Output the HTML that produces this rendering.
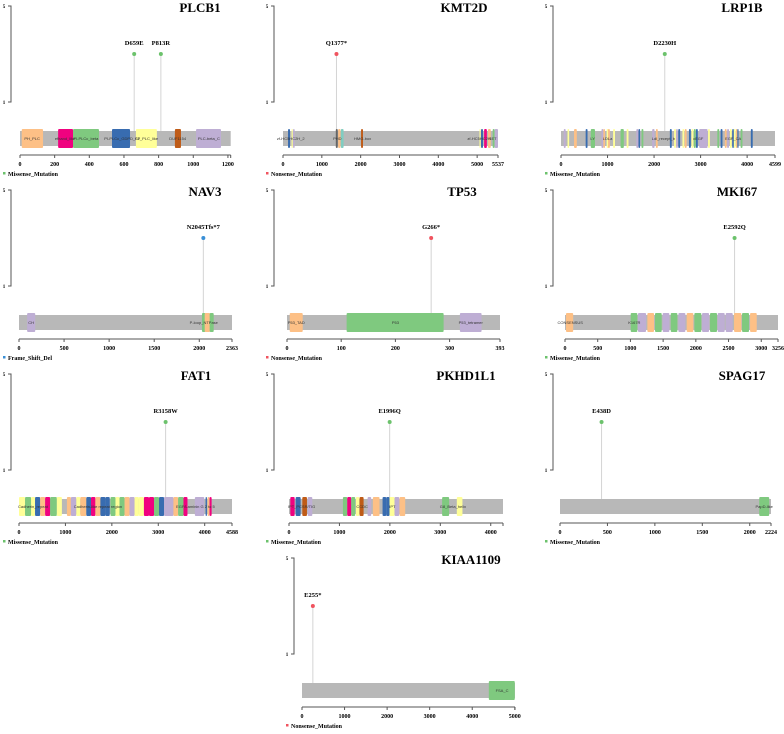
<!DOCTYPE html>
<html><head><meta charset="utf-8">
<style>
html,body{margin:0;padding:0;background:#fff;}
svg{display:block;font-family:"Liberation Serif",serif;}
</style></head>
<body>
<svg id="chart" width="784" height="734" viewBox="0 0 784 734" xmlns="http://www.w3.org/2000/svg"></svg>
<script>
// ---- data ----
const geneNames = ["PLCB1","KMT2D","LRP1B","NAV3","TP53","MKI67","FAT1","PKHD1L1","SPAG17","KIAA1109"];
const geneLengths = [1216,5537,4599,2363,393,3256,4588,4243,2224,5005];
const tickSteps = [200,1000,1000,500,100,500,1000,1000,500,1000];
const mutPositions = [[659,813],[1377],[2230],[2045],[266],[2592],[3158],[1996],[438],[255]];
const mutLabels = [["D659E","P813R"],["Q1377*"],["D2230H"],["N2045Tfs*7"],["G266*"],["E2592Q"],["R3158W"],["E1996Q"],["E438D"],["E255*"]];
const mutTypes = ["Missense_Mutation","Nonsense_Mutation","Missense_Mutation","Frame_Shift_Del","Nonsense_Mutation","Missense_Mutation","Missense_Mutation","Missense_Mutation","Missense_Mutation","Nonsense_Mutation"];
const domPLCB1 = [[10,133,"O"],[220,306,"M"],[306,456,"G"],[531,635,"B"],[669,790,"Y"],[894,929,"R"],[1016,1160,"P"]];
const domKMT2D = [[130,180,"B"],[220,250,"Y"],[260,300,"P"],[1360,1410,"K"],[1420,1480,"O"],[1490,1560,"T"],[2010,2060,"R"],[5060,5090,"Y"],[5100,5150,"B"],[5180,5250,"M"],[5280,5350,"O"],[5400,5450,"G"],[5450,5537,"P"]];
const domLRP1B = [[60,100,"P"],[140,175,"Y"],[280,340,"O"],[530,570,"B"],[640,730,"G"],[870,910,"P"],[910,945,"O"],[980,1020,"Y"],[1010,1050,"O"],[1120,1160,"Y"],[1280,1350,"G"],[1410,1450,"Y"],[1620,1660,"P"],[1665,1700,"B"],[1730,1770,"G"],[1960,2010,"P"],[2040,2080,"O"],[2340,2380,"B"],[2430,2470,"Y"],[2475,2510,"P"],[2520,2560,"B"],[2610,2650,"Y"],[2660,2700,"O"],[2750,2790,"B"],[2805,2845,"Y"],[2855,2895,"G"],[2900,2940,"B"],[2970,3150,"P"],[3160,3200,"Y"],[3360,3400,"G"],[3430,3470,"B"],[3520,3560,"O"],[3570,3610,"P"],[3630,3670,"Y"],[3680,3715,"B"],[3715,3755,"Y"],[3760,3790,"O"],[3790,3815,"B"],[3860,3900,"G"],[4080,4120,"B"]];
const domNAV3 = [[90,180,"P"],[2030,2070,"G"],[2060,2120,"O"],[2115,2160,"G"]];
const domTP53 = [[5,29,"O"],[110,289,"G"],[319,359,"P"]];
const domMKI67 = [[15,125,"O"],[1004,1106,"G"],[1116,1239,"P"],[1259,1361,"O"],[1376,1478,"G"],[1493,1595,"P"],[1616,1718,"G"],[1733,1840,"P"],[1860,1962,"O"],[1977,2084,"G"],[2095,2202,"P"],[2217,2324,"G"],[2334,2441,"P"],[2457,2564,"P"],[2584,2696,"O"],[2706,2813,"G"],[2829,2931,"O"]];
const domFAT1 = [[0,130,"Y"],[130,260,"G"],[260,346,"Y"],[346,455,"B"],[455,563,"O"],[563,671,"M"],[671,815,"G"],[815,924,"Y"],[1032,1118,"O"],[1118,1234,"P"],[1234,1320,"Y"],[1320,1450,"O"],[1450,1551,"B"],[1551,1645,"M"],[1645,1753,"O"],[1753,1861,"B"],[1861,1955,"B"],[1970,2078,"G"],[2078,2165,"Y"],[2165,2273,"G"],[2273,2381,"O"],[2381,2489,"P"],[2489,2583,"Y"],[2583,2691,"Y"],[2691,2800,"M"],[2800,2908,"M"],[2908,3016,"G"],[3016,3124,"B"],[3124,3326,"P"],[3326,3427,"O"],[3427,3543,"G"],[3543,3629,"M"],[3788,3990,"P"],[4019,4048,"B"],[4062,4105,"O"],[4105,4149,"M"]];
const domPKHD1L1 = [[26,112,"M"],[132,231,"B"],[264,356,"R"],[370,462,"P"],[1069,1155,"G"],[1155,1234,"M"],[1234,1313,"G"],[1327,1393,"Y"],[1399,1479,"R"],[1558,1630,"P"],[1663,1795,"O"],[1855,1927,"B"],[1927,1993,"B"],[1993,2092,"Y"],[2092,2185,"P"],[2191,2304,"O"],[3036,3175,"G"],[3327,3439,"Y"]];
const domSPAG17 = [[2100,2205,"G"]];
const domKIAA1109 = [[4390,5000,"G"]];
const domains = [domPLCB1,domKMT2D,domLRP1B,domNAV3,domTP53,domMKI67,domFAT1,domPKHD1L1,domSPAG17,domKIAA1109];
const domainLabels = [
 [[70,"PH_PLC"],[260,"efhand_like"],[380,"PI-PLCc_beta"],[590,"PI-PLCc_GDPD_SF"],[730,"C2_PLC_like"],[910,"DUF1154"],[1090,"PLC-beta_C"]],
 [[200,"zf-HC5HC2H_2"],[1400,"PHD"],[2050,"HMG-box"],[5050,"zf-HC5HC2H"],[5400,"SET"]],
 [[680,"LY"],[1000,"LDLa"],[2200,"Ldl_recept_b"],[2950,"cEGF"],[3700,"EGF_CA"]],
 [[135,"CH"],[2050,"P-loop_NTPase"]],
 [[17,"P53_TAD"],[200,"P53"],[339,"P53_tetramer"]],
 [[80,"CONSENSUS"],[1060,"K167R"]],
 [[300,"Cadherin_repeat"],[1700,"Cadherin-like repeat region"],[3800,"EGF/Laminin G 2 to 5"]],
 [[250,"IPT_PCSR/TIG"],[1450,"CCDC"],[2050,"IPT"],[3250,"G8_Beta_helix"]],
 [[2152,"PapD-like"]],
 [[4700,"FSA_C"]]
];
// ---- layout (pixels, not data) ----
const rowY = [0,0,0,184,184,184,368,368,368,552];
const axisXs = [11,274,553,11,274,553,11,274,553,294];
const x0s = [20,283,561,19,287,565,19,289,560,302];
const xEnds = [230.7,498,775,232,500,778,232,503,771,515];
const nameX = [200,464,742,205,462,737,196,466,742,471];
const palette = {G:"#7fc97f",P:"#beaed4",O:"#fdc086",Y:"#ffff99",B:"#386cb0",M:"#f0027f",R:"#bf5b17",K:"#666666",T:"#80cdc1"};
const mutColor = {"Missense_Mutation":"#6cc26c","Nonsense_Mutation":"#f0545f","Frame_Shift_Del":"#3a8fd6"};

const NS = "http://www.w3.org/2000/svg";
const svg = document.getElementById("chart");
function mk(tag, attrs, parent, text){
  const e = document.createElementNS(NS, tag);
  for (const k in attrs) e.setAttribute(k, attrs[k]);
  if (text !== undefined) e.textContent = text;
  parent.appendChild(e);
  return e;
}

geneNames.forEach((gene, i) => {
  const oy = rowY[i];
  const L = geneLengths[i];
  const xs = aa => x0s[i] + (xEnds[i] - x0s[i]) * aa / L;
  const yCount = 54; // all counts are equal (lollipop head height)
  const g = mk("g", {}, svg);
  
  

  // title
  const t = mk("text", {x:nameX[i], y:oy+12, "text-anchor":"middle", "font-size":"13", "font-weight":"bold", fill:"#000"}, g, gene);
  
  

  // y axis
  const ax = axisXs[i];
  const ya = mk("path", {d:`M${ax-3},${oy+6}H${ax}V${oy+102}H${ax-3}`, stroke:"#555", "stroke-width":"1", fill:"none"}, g);
  
  
  const y5 = mk("text", {x:ax-7, y:oy+8, "text-anchor":"middle", "font-size":"5", "font-weight":"bold"}, g, "5");
  
  
  const y1 = mk("text", {x:ax-7, y:oy+104, "text-anchor":"middle", "font-size":"5", "font-weight":"bold"}, g, "1");
  
  

  // stems and heads
  mutPositions[i].forEach((p, j) => {
    const stem = mk("line", {x1:xs(p), x2:xs(p), y1:oy+yCount, y2:oy+131, stroke:"#d4d4d4", "stroke-width":"1"}, g);
    
    
  });

  // backbone
  const bb = mk("rect", {x:xs(0), y:oy+131, width:xs(L)-xs(0), height:15, fill:"#b8b8b8"}, g);
  
  

  // domains
  domains[i].forEach(d => {
    const r = mk("rect", {x:xs(d[0]), y:oy+129, width:Math.max(1.2, xs(d[1])-xs(d[0])), height:19, fill:palette[d[2]], rx:"1"}, g);
    
    
  });
  domainLabels[i].forEach(d => {
    const tl = mk("text", {x:xs(d[0]), y:oy+140, "text-anchor":"middle", "font-size":"4", "font-family":"Liberation Sans, sans-serif", fill:"#333"}, g, d[1]);
    
    
  });

  // heads + labels
  mutPositions[i].forEach((p, j) => {
    const c = mk("circle", {cx:xs(p), cy:oy+yCount, r:2, fill:mutColor[mutTypes[i]]}, g);
    
    
    const ml = mk("text", {x:xs(p), y:oy+45, "text-anchor":"middle", "font-size":"6.5", "font-weight":"bold"}, g, mutLabels[i][j]);
    
    
  });

  // x axis
  const xa = mk("line", {x1:xs(0), x2:xs(L), y1:oy+155, y2:oy+155, stroke:"#555", "stroke-width":"1"}, g);
  
  
  const step = tickSteps[i];
  const ticks = [];
  for (let v = 0; v <= L; v += step) ticks.push(v);
  const last = ticks[ticks.length-1];
  const showEnd = (L - last) > step * 0.35;
  ticks.forEach(v => {
    const tk = mk("line", {x1:xs(v), x2:xs(v), y1:oy+155, y2:oy+158, stroke:"#555"}, g);
    
    
    const tx = mk("text", {x:xs(v), y:oy+166, "text-anchor":"middle", "font-size":"6", "font-weight":"bold"}, g, String(v));
    
    
  });
  if (L !== last) {
    const tk = mk("line", {x1:xs(L), x2:xs(L), y1:oy+155, y2:oy+158, stroke:"#555"}, g);
    
    
    if (showEnd) {
      const tx = mk("text", {x:xs(L), y:oy+166, "text-anchor":"middle", "font-size":"6", "font-weight":"bold"}, g, String(L));
      
      
    }
  }

  // legend
  const lx = ax - 8;
  const lg = mk("g", {}, g);
  
  
  mk("rect", {x:lx, y:oy+172, width:2.5, height:2.5, fill:mutColor[mutTypes[i]]}, lg);
  mk("text", {x:lx+5, y:oy+176, "font-size":"6", "font-weight":"bold"}, lg, mutTypes[i]);
});
</script>
</body></html>
